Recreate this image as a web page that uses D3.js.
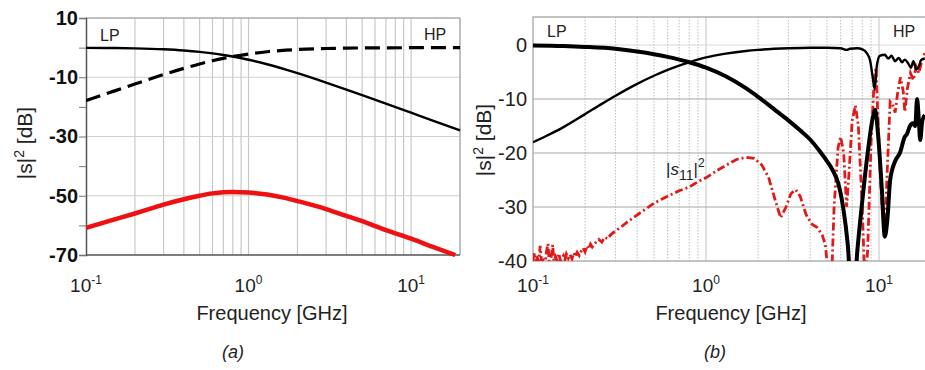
<!DOCTYPE html>
<html><head><meta charset="utf-8">
<script src="https://cdn.jsdelivr.net/npm/d3@7"></script>
<style>
body{margin:0;background:#fff;}
svg{display:block;}
</style>
</head><body>
<svg id="c" width="925" height="370"></svg>
<script>
// ---------- Panel (a) data ----------
const freqA = [0.1,0.15,0.2,0.3,0.4,0.5,0.6,0.7,0.8,1,1.3,1.7,2,3,4,5,7,10,14,20];
const lpA   = [-0.07,-0.15,-0.26,-0.57,-0.97,-1.43,-1.94,-2.47,-3.01,-4.09,-5.61,-7.42,-8.6,-11.78,-14.15,-16.03,-18.9,-21.97,-24.87,-27.97];
const hpA   = [-17.9,-14.6,-12.3,-9.09,-6.99,-5.51,-4.44,-3.63,-3.01,-2.15,-1.39,-0.87,-0.64,-0.3,-0.17,-0.11,-0.06,-0.03,-0.01,0];
const freqA2 = [0.1,0.15,0.2,0.3,0.4,0.5,0.6,0.7,0.8,1,1.3,1.7,2,3,4,5,7,10,14,18.7];
const s11A  = [-60.8,-58,-56,-53,-51.2,-50,-49.2,-48.8,-48.7,-48.9,-49.6,-50.8,-51.8,-54.5,-56.8,-58.6,-61.6,-64.5,-67.5,-70];
const yTicksA = [10,0,-10,-20,-30,-40,-50,-60,-70];
const yLabelsA = [10,-10,-30,-50,-70];

// ---------- Panel (b) data ----------
const freqLPb = [0.1,0.15,0.2,0.3,0.4,0.5,0.6,0.7,0.8,1.0,1.3,1.7,2.0,2.5,3.0,3.5,4.0,4.5,5.0,5.4,5.8,6.2,6.6,6.9,7.2,7.5,8.0,8.6,9.2,9.5,9.9,10.4,10.8,11.2,11.6,12.4,13.2,14.1,14.5,15.1,15.7,16.2,16.6,17.0,17.3,17.8,18.4];
const lpB     = [-0.1,-0.2,-0.35,-0.7,-1.2,-1.7,-2.2,-2.7,-3.2,-4.2,-5.8,-8.0,-9.6,-12,-14,-15.8,-17.5,-19.5,-21.5,-23.2,-25.5,-30,-37,-45,-45,-38,-29,-20,-13.5,-12,-17,-27,-35.5,-32,-25,-21.5,-20,-17,-16.5,-15,-14.5,-15,-10,-14,-17.6,-14,-13];
const freqHPb = [0.1,0.12,0.15,0.2,0.25,0.3,0.4,0.5,0.6,0.7,0.8,1.0,1.3,1.7,2.0,3.0,4.0,5.0,6.0,6.5,6.8,7.5,8.0,8.5,8.9,9.2,9.45,9.7,10.1,10.8,11.3,11.8,12.4,13.0,13.6,14.1,14.8,15.3,15.8,16.4,17.0,17.5,18.4];
const hpB     = [-18,-16.8,-15.2,-12.8,-10.9,-9.4,-7.2,-5.7,-4.6,-3.8,-3.2,-2.3,-1.6,-1.1,-0.9,-0.6,-0.5,-0.5,-0.6,-0.9,-0.7,-0.6,-0.8,-1.5,-3,-6,-8.2,-4,-2,-1.8,-2.5,-2.0,-3.0,-2.4,-3.2,-2.7,-3.5,-4.2,-3.0,-4.5,-4.0,-2.8,-2.5];
const freqS11b = [0.1,0.102,0.104,0.106,0.108,0.11,0.112,0.115,0.118,0.12,0.122,0.124,0.127,0.13,0.132,0.135,0.138,0.141,0.144,0.147,0.15,0.153,0.156,0.16,0.164,0.168,0.172,0.176,0.18,0.185,0.19,0.195,0.2,0.205,0.21,0.215,0.22,0.23,0.24,0.25,0.26,0.27,0.28,0.3,0.32,0.35,0.38,0.42,0.46,0.5,0.55,0.6,0.7,0.8,0.9,1.0,1.15,1.3,1.5,1.7,1.9,2.1,2.3,2.5,2.7,2.9,3.1,3.3,3.5,3.8,4.1,4.4,4.7,4.9,5.1,5.3,5.5,5.8,6.0,6.25,6.5,6.7,7.0,7.3,7.6,8.0,8.3,8.6,9.0,9.4,9.6,9.9,10.4,10.8,11.2,11.6,12.0,12.4,12.8,13.3,13.8,14.1,14.6,15.2,15.8,16.4,17.0,17.5,18.4];
const s11B     = [-40,-38.5,-40,-39.5,-40,-37.2,-40,-39.8,-40,-38,-36.8,-40,-39.5,-37,-40,-39.2,-40,-38.6,-40,-39.5,-39,-39.8,-38.7,-39.5,-38.8,-39.6,-38.5,-39.2,-38.4,-39,-38.2,-37.6,-38.3,-37.2,-37.8,-36.9,-37.4,-36.6,-36,-36.5,-35.6,-35.9,-35.2,-34.4,-33.8,-32.8,-32,-31,-30.1,-29.3,-28.6,-28,-27,-26.3,-25.3,-24.6,-23.3,-22.3,-21.2,-20.8,-21,-22.2,-24.5,-28.5,-32,-30,-27.5,-26.8,-28,-31.5,-33.2,-33.8,-35.2,-37,-43,-45,-30,-19,-17,-20,-30,-24,-14,-11.2,-15,-30,-45,-38,-18,-6,-4.2,-15,-30,-34.8,-22,-10.5,-11,-12.5,-9,-6,-8.5,-12.4,-8,-5.2,-6.5,-4,-5.2,-3.5,-1.5];
const yTicksB = [0,-10,-20,-30,-40];

const minorFreqs = [0.2,0.3,0.4,0.5,0.6,0.7,0.8,0.9,2,3,4,5,6,7,8,9];
const majorFreqs = [0.1,1,10];

const svg = d3.select("#c");
const FONT = "'Liberation Sans', Arial, sans-serif";
const NARROW = "'Liberation Sans Narrow', 'Liberation Sans', Arial, sans-serif";

function xTickLabels(g, x, y0) {
  majorFreqs.forEach(f => {
    const e = Math.round(Math.log10(f));
    const t = g.append("text").attr("x", x(f)).attr("y", y0)
      .attr("text-anchor","middle").attr("font-family", NARROW).attr("font-size", 19).attr("fill","#222");
    t.append("tspan").text("10");
    t.append("tspan").attr("dy", -8).attr("font-size", 12).text(String(e));
  });
}
function yLabel(g, cx, cy) {
  const t = g.append("text").attr("transform", `translate(${cx},${cy}) rotate(-90)`)
    .attr("text-anchor","middle").attr("font-family", FONT).attr("font-size", 21).attr("fill","#222");
  t.append("tspan").text("|s|");
  t.append("tspan").attr("dy", -8).attr("font-size", 14).text("2");
  t.append("tspan").attr("dy", 8).text(" [dB]");
}

// ================= Panel (a) =================
{
  const L = 86, R = 460, T = 18, B = 255;
  const x = d3.scaleLog().domain([0.1, 20]).range([L, R]);
  const y = d3.scaleLinear().domain([-70, 10]).range([B, T]);
  const g = svg.append("g");
  g.selectAll(".vg").data(minorFreqs.concat([1,10])).enter().append("line")
    .attr("x1", d => x(d)).attr("x2", d => x(d)).attr("y1", T).attr("y2", B)
    .attr("stroke", "#c8c8c8").attr("stroke-width", 1.2);
  g.selectAll(".hg").data([-10,-30,-50]).enter().append("line")
    .attr("x1", L).attr("x2", R).attr("y1", d => y(d)).attr("y2", d => y(d))
    .attr("stroke", "#d0d0d0").attr("stroke-width", 1.2);
  g.append("line").attr("x1", L).attr("x2", R).attr("y1", T).attr("y2", T).attr("stroke","#aaa").attr("stroke-width",1.5);
  g.append("line").attr("x1", R).attr("x2", R).attr("y1", T).attr("y2", B).attr("stroke","#aaa").attr("stroke-width",1.5);
  const ya = d3.axisLeft(y).tickValues(yTicksA).tickSize(7).tickFormat(d => yLabelsA.includes(d) ? d : "");
  const yg = g.append("g").attr("transform", `translate(${L},0)`).call(ya);
  yg.select(".domain").attr("stroke","#555").attr("stroke-width",1.5);
  yg.selectAll(".tick line").attr("stroke","#777");
  yg.selectAll(".tick text").attr("font-family", FONT).attr("font-size", 20).attr("font-weight","bold").attr("fill","#111").attr("x",-8);
  g.append("line").attr("x1", L).attr("x2", R).attr("y1", B).attr("y2", B).attr("stroke","#555").attr("stroke-width",1.5);

  svg.append("clipPath").attr("id","clipA").append("rect").attr("x",L).attr("y",T-2).attr("width",R-L+2).attr("height",B-T+4);
  const line = d3.line().x(d => x(d[0])).y(d => y(d[1]));
  const pc = g.append("g").attr("clip-path","url(#clipA)");
  pc.append("path").datum(freqA.map((f,i)=>[f,lpA[i]])).attr("d", line.curve(d3.curveMonotoneX))
    .attr("fill","none").attr("stroke","#000").attr("stroke-width",2.4);
  pc.append("path").datum(freqA.map((f,i)=>[f,hpA[i]])).attr("d", line.curve(d3.curveMonotoneX))
    .attr("fill","none").attr("stroke","#000").attr("stroke-width",3.2).attr("stroke-dasharray","15,7");
  pc.append("path").datum(freqA2.map((f,i)=>[f,s11A[i]])).attr("d", line.curve(d3.curveMonotoneX))
    .attr("fill","none").attr("stroke","#ee1111").attr("stroke-width",4.5);

  g.append("text").attr("x",100).attr("y",41).attr("font-family",FONT).attr("font-size",16).attr("fill","#222").text("LP");
  g.append("text").attr("x",424).attr("y",40).attr("font-family",FONT).attr("font-size",16).attr("fill","#222").text("HP");
  xTickLabels(g, x, 292);
  g.append("text").attr("x",272).attr("y",320).attr("text-anchor","middle").attr("font-family",NARROW).attr("font-size",20).attr("fill","#222").text("Frequency [GHz]");
  g.append("text").attr("x",233).attr("y",358).attr("text-anchor","middle").attr("font-family",NARROW).attr("font-size",18).attr("font-style","italic").attr("fill","#222").text("(a)");
  yLabel(g, 32, 143);
}

// ================= Panel (b) =================
{
  const L = 533, T = 17, B = 261;
  const x = d3.scaleLog().domain([0.1, 10]).range([L, 879]);
  const R = 925;
  const y = d3.scaleLinear().domain([-40, 0]).range([B, 45]);
  const g = svg.append("g");
  g.selectAll(".vg").data(minorFreqs).enter().append("line")
    .attr("x1", d => x(d)).attr("x2", d => x(d)).attr("y1", T).attr("y2", B)
    .attr("stroke", "#bdbdbd").attr("stroke-width", 1).attr("stroke-dasharray","1.5,1.5");
  g.selectAll(".vm").data([1,10]).enter().append("line")
    .attr("x1", d => x(d)).attr("x2", d => x(d)).attr("y1", T).attr("y2", B)
    .attr("stroke", "#c4c4c4").attr("stroke-width", 1);
  g.selectAll(".hg").data([0,-10,-20,-30]).enter().append("line")
    .attr("x1", L).attr("x2", R).attr("y1", d => y(d)).attr("y2", d => y(d))
    .attr("stroke", d => d === 0 ? "#d8d8d8" : "#a8a8a8").attr("stroke-width", 1);
  g.append("rect").attr("x",L).attr("y",T).attr("width",R-L+5).attr("height",B-T)
    .attr("fill","none").attr("stroke","#b0b0b0").attr("stroke-width",1.5);
  const ya = d3.axisLeft(y).tickValues(yTicksB).tickSize(0).tickPadding(6);
  const yg = g.append("g").attr("transform", `translate(${L},0)`).call(ya);
  yg.select(".domain").remove();
  yg.selectAll(".tick text").attr("font-family", FONT).attr("font-size", 20).attr("fill","#222").text(d => String(d));

  svg.append("clipPath").attr("id","clipB").append("rect").attr("x",L).attr("y",T).attr("width",R-L).attr("height",B-T);
  const line = d3.line().x(d => x(d[0])).y(d => y(d[1]));
  const pc = g.append("g").attr("clip-path","url(#clipB)");
  pc.append("path").datum(freqS11b.map((f,i)=>[f,s11B[i]])).attr("d", line.curve(d3.curveLinear))
    .attr("fill","none").attr("stroke","#e01a1a").attr("stroke-width",2.8).attr("stroke-dasharray","8,3,2,3");
  pc.append("path").datum(freqHPb.map((f,i)=>[f,hpB[i]])).attr("d", line.curve(d3.curveMonotoneX))
    .attr("fill","none").attr("stroke","#000").attr("stroke-width",2.4);
  pc.append("path").datum(freqLPb.map((f,i)=>[f,lpB[i]])).attr("d", line.curve(d3.curveMonotoneX))
    .attr("fill","none").attr("stroke","#000").attr("stroke-width",4);

  g.append("text").attr("x",547).attr("y",37).attr("font-family",FONT).attr("font-size",16).attr("fill","#222").text("LP");
  g.append("text").attr("x",893).attr("y",37).attr("font-family",FONT).attr("font-size",16).attr("fill","#222").text("HP");
  const s = g.append("text").attr("x",666).attr("y",175).attr("font-family",FONT).attr("font-size",17).attr("fill","#222");
  s.append("tspan").text("|");
  s.append("tspan").attr("font-style","italic").text("s");
  s.append("tspan").attr("dy",5).attr("font-size",14).text("11");
  s.append("tspan").attr("dy",-5).text("|");
  s.append("tspan").attr("dy",-8).attr("font-size",12).text("2");
  xTickLabels(g, x, 292);
  g.append("text").attr("x",731).attr("y",320).attr("text-anchor","middle").attr("font-family",NARROW).attr("font-size",20).attr("fill","#222").text("Frequency [GHz]");
  g.append("text").attr("x",715).attr("y",358).attr("text-anchor","middle").attr("font-family",NARROW).attr("font-size",18).attr("font-style","italic").attr("fill","#222").text("(b)");
  yLabel(g, 491, 140);
}
</script>
</body></html>
